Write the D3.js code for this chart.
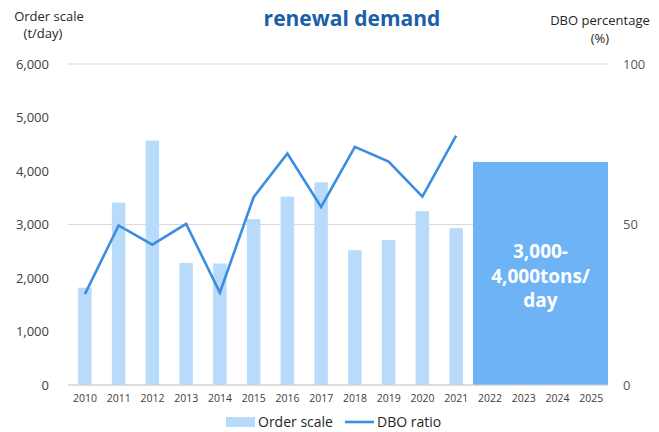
<!DOCTYPE html>
<html>
<head>
<meta charset="utf-8">
<script src="https://cdn.jsdelivr.net/npm/d3@7"></script>
<style>
  html, body { margin: 0; padding: 0; background: #fff; }
  svg { display: block; font-family: "Open Sans", "Noto Sans", sans-serif; }
</style>
</head>
<body>
<svg id="chart" width="659" height="432"></svg>
<script>
// Annual order scale (t/day) and DBO share (%)
const years = ["2010","2011","2012","2013","2014","2015","2016","2017","2018","2019","2020","2021","2022","2023","2024","2025"];
const histYears = ["2010","2011","2012","2013","2014","2015","2016","2017","2018","2019","2020","2021"];
const orderScale = [1820, 3410, 4570, 2280, 2270, 3100, 3520, 3790, 2520, 2710, 3250, 2930];
const dboRatio = [28.3, 49.7, 43.7, 50.2, 28.8, 58.5, 72.1, 55.5, 74.2, 69.6, 58.7, 77.7];
// Forecast block for 2022–2025
const forecastYears = ["2022","2023","2024","2025"];
const forecastValue = 4170;
const forecastLabel = ["3,000-", "4,000tons/", "day"];
const leftTicks = [0, 1000, 2000, 3000, 4000, 5000, 6000];
const rightTicks = [0, 50, 100];

const svg = d3.select("#chart");
const plot = { left: 68, right: 608, top: 64, bottom: 385 };

const x = d3.scaleBand().domain(years).range([plot.left, plot.right]).padding(0);
const yL = d3.scaleLinear().domain([0, 6000]).range([plot.bottom, plot.top]);
const yR = d3.scaleLinear().domain([0, 100]).range([plot.bottom, plot.top]);
const bw = x.bandwidth();

// Gridlines follow the secondary axis ticks
svg.append("g").selectAll("line").data(rightTicks).join("line")
  .attr("x1", plot.left).attr("x2", plot.right)
  .attr("y1", d => yR(d)).attr("y2", d => yR(d))
  .attr("stroke", "#d9d9d9").attr("stroke-width", 1);

// Left axis
const leftAxis = d3.axisLeft(yL).tickValues(leftTicks).tickFormat(d3.format(",")).tickSize(0).tickPadding(0);
const gL = svg.append("g").attr("transform", "translate(49,0)").call(leftAxis);
gL.select(".domain").remove();
gL.selectAll("text").attr("font-size", 13).attr("fill", "#404040").attr("font-family", "Open Sans, sans-serif");

// Right axis
const rightAxis = d3.axisRight(yR).tickValues(rightTicks).tickSize(0).tickPadding(0);
const gR = svg.append("g").attr("transform", "translate(623,0)").call(rightAxis);
gR.select(".domain").remove();
gR.selectAll("text").attr("font-size", 13).attr("fill", "#595959").attr("font-family", "Open Sans, sans-serif");

// Bars
svg.append("g").selectAll("rect").data(histYears).join("rect")
  .attr("x", d => x(d) + bw * 0.3)
  .attr("width", bw * 0.4)
  .attr("y", (d, i) => yL(orderScale[i]))
  .attr("height", (d, i) => plot.bottom - yL(orderScale[i]))
  .attr("fill", "#b9dbfb");

// Forecast block
const fx0 = x(forecastYears[0]);
const fx1 = x(forecastYears[forecastYears.length - 1]) + bw;
svg.append("rect")
  .attr("x", fx0).attr("width", fx1 - fx0)
  .attr("y", yL(forecastValue)).attr("height", plot.bottom - yL(forecastValue))
  .attr("fill", "#6fb3f7");

const ft = svg.append("text")
  .attr("text-anchor", "middle")
  .attr("font-size", 19).attr("font-weight", "bold").attr("fill", "#fff");
forecastLabel.forEach((s, i) => {
  ft.append("tspan").attr("x", (fx0 + fx1) / 2).attr("y", 258 + i * 24.5).text(s);
});

// Baseline
svg.append("line")
  .attr("x1", plot.left).attr("x2", plot.right)
  .attr("y1", plot.bottom).attr("y2", plot.bottom)
  .attr("stroke", "#d0d0d0").attr("stroke-width", 1);

// DBO line
const line = d3.line()
  .x((d, i) => x(histYears[i]) + bw / 2)
  .y(d => yR(d));
svg.append("path").datum(dboRatio)
  .attr("d", line)
  .attr("fill", "none")
  .attr("stroke", "#3a8de3")
  .attr("stroke-width", 2.6)
  .attr("stroke-linejoin", "miter");

// Category labels
const xAxis = d3.axisBottom(x).tickSize(0).tickPadding(0);
const gX = svg.append("g").attr("transform", `translate(0,${plot.bottom + 10})`).call(xAxis);
gX.select(".domain").remove();
gX.selectAll("text").attr("font-size", 10.5).attr("fill", "#404040").attr("font-family", "Open Sans, sans-serif");

// Titles
svg.append("text").attr("x", 352).attr("y", 26).attr("text-anchor", "middle")
  .attr("font-size", 21).attr("font-weight", "bold").attr("fill", "#1b5fa9")
  .text("renewal demand");

svg.append("text").attr("x", 49).attr("y", 21).attr("text-anchor", "middle")
  .attr("font-size", 13).attr("fill", "#262626").text("Order scale");
svg.append("text").attr("x", 43).attr("y", 38).attr("text-anchor", "middle")
  .attr("font-size", 13).attr("fill", "#262626").text("(t/day)");

svg.append("text").attr("x", 600).attr("y", 25).attr("text-anchor", "middle")
  .attr("font-size", 13).attr("fill", "#262626").text("DBO percentage");
svg.append("text").attr("x", 600).attr("y", 43).attr("text-anchor", "middle")
  .attr("font-size", 13).attr("fill", "#262626").text("(%)");

// Legend
const lg = svg.append("g");
lg.append("rect").attr("x", 226).attr("y", 417).attr("width", 29).attr("height", 10).attr("fill", "#b9dbfb");
lg.append("text").attr("x", 258).attr("y", 427).attr("font-size", 14).attr("fill", "#262626").text("Order scale");
lg.append("line").attr("x1", 345).attr("x2", 374).attr("y1", 422).attr("y2", 422)
  .attr("stroke", "#3a8de3").attr("stroke-width", 2.6);
lg.append("text").attr("x", 377).attr("y", 427).attr("font-size", 14).attr("fill", "#262626").text("DBO ratio");
</script>
</body>
</html>
